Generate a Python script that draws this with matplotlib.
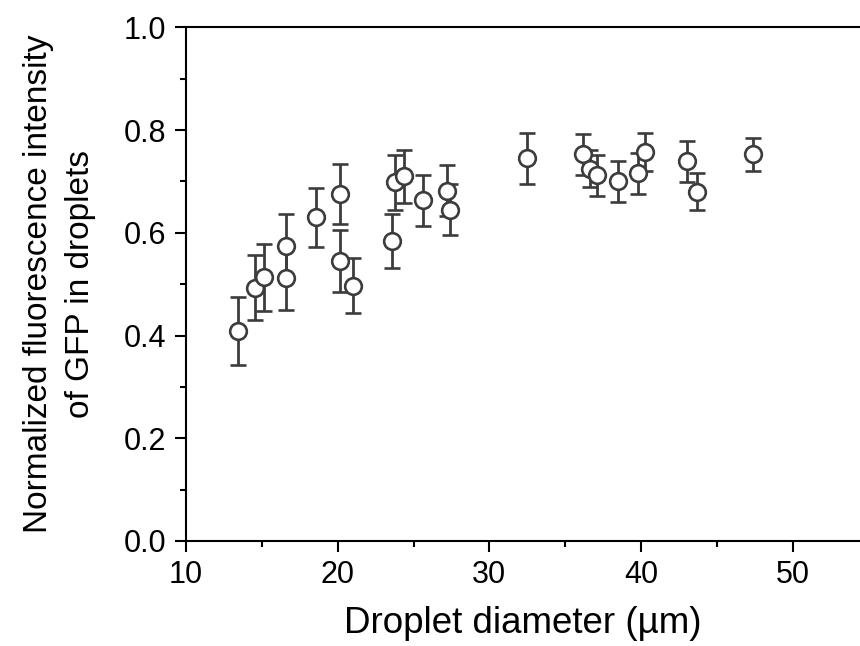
import matplotlib
matplotlib.use("Agg")
import matplotlib.pyplot as plt
from matplotlib.ticker import MultipleLocator, FormatStrFormatter

plt.rcParams['font.family'] = ['Liberation Sans', 'DejaVu Sans']

diameter = [13.4, 14.55, 15.16, 16.6, 16.6, 18.57, 20.17, 20.17, 20.99,
            23.58, 23.78, 24.39, 25.6, 27.2, 27.4, 32.46,
            36.17, 36.6, 37.1, 38.5, 39.8, 40.26, 43.0, 43.7, 47.4]
intensity = [0.409, 0.493, 0.513, 0.575, 0.511, 0.630, 0.675, 0.545, 0.497,
             0.584, 0.698, 0.710, 0.663, 0.682, 0.645, 0.745,
             0.753, 0.725, 0.712, 0.700, 0.716, 0.757, 0.739, 0.680, 0.753]
error = [0.066, 0.063, 0.065, 0.062, 0.062, 0.057, 0.058, 0.061, 0.054,
         0.052, 0.054, 0.052, 0.050, 0.050, 0.050, 0.050,
         0.040, 0.036, 0.040, 0.040, 0.040, 0.037, 0.040, 0.036, 0.032]

col = '#3c3c3c'
fig = plt.figure(figsize=(8.6, 6.46), dpi=100)
ax = fig.add_axes([186/860, 105/646, 1 - 186/860, (541 - 27.3)/646])

ax.errorbar(diameter, intensity, yerr=error, fmt='o', color=col, ecolor=col,
            elinewidth=2.0, capsize=5.5, capthick=2.0, markersize=12,
            markerfacecolor='white', markeredgecolor=col, markeredgewidth=1.9,
            zorder=3)

ax.set_xlim(10, 10 + (860 - 186) / 15.17)
ax.set_ylim(0, 1.0)
ax.xaxis.set_major_locator(MultipleLocator(10))
ax.xaxis.set_minor_locator(MultipleLocator(5))
ax.yaxis.set_major_locator(MultipleLocator(0.2))
ax.yaxis.set_minor_locator(MultipleLocator(0.1))
ax.yaxis.set_major_formatter(FormatStrFormatter('%.1f'))

for s in ['left', 'bottom', 'top']:
    ax.spines[s].set_linewidth(1.5)
    ax.spines[s].set_color('black')
ax.spines['right'].set_visible(False)

ax.tick_params(which='major', direction='out', length=8, width=1.5,
               labelsize=22, pad=6)
ax.tick_params(which='minor', direction='out', length=4, width=1.5)
ax.tick_params(top=False, right=False, which='both')

ax.set_xlabel('Droplet diameter (µm)', fontsize=26.5, labelpad=11)
ax.set_ylabel('Normalized fluorescence intensity\nof GFP in droplets',
              fontsize=24, labelpad=20, linespacing=1.45)

fig.savefig('out.png', dpi=100)
